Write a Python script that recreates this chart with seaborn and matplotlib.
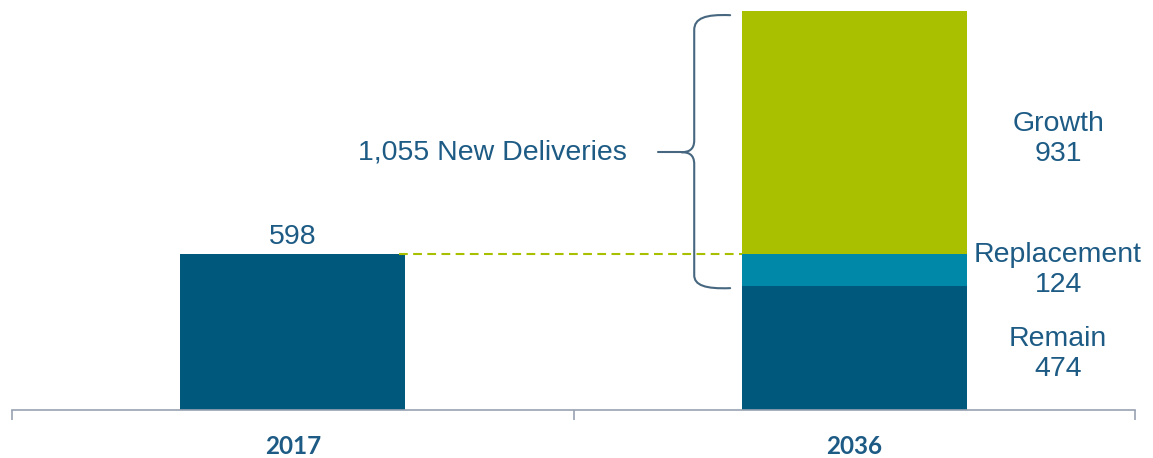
import matplotlib
matplotlib.use("Agg")
import matplotlib.pyplot as plt
import seaborn as sns
import pandas as pd
from matplotlib.path import Path
from matplotlib.patches import PathPatch

# ---- data ----
years = ["2017", "2036"]
remain = [598, 474]
replacement = [0, 124]
growth = [0, 931]
segment_names = ["Remain", "Replacement", "Growth"]
new_label = "New Deliveries"

DARK = "#00587c"
TEAL = "#0088a8"
GREEN = "#a8c000"
TEXT = "#1d5b85"
AXIS = "#98a2b3"
BRACE = "#46677f"

sns.set_theme(style="white")
plt.rcParams["font.family"] = ["Liberation Sans", "DejaVu Sans"]

W, H = 1153, 458
fig = plt.figure(figsize=(W / 100, H / 100), dpi=100)
ax = fig.add_axes([12 / W, 48 / H, 1123 / W, 399 / H])

total_2036 = remain[1] + replacement[1] + growth[1]

bar_kw = dict(order=years, saturation=1, width=0.4, errorbar=None, linewidth=0, ax=ax)
sns.barplot(data=pd.DataFrame({"year": years, "value": remain}), x="year", y="value",
            color=DARK, **bar_kw)
sns.barplot(data=pd.DataFrame({"year": [years[1]], "value": [replacement[1]]}), x="year", y="value",
            color=TEAL, bottom=remain[1], **bar_kw)
sns.barplot(data=pd.DataFrame({"year": [years[1]], "value": [growth[1]]}), x="year", y="value",
            color=GREEN, bottom=remain[1] + replacement[1], **bar_kw)

ax.set_xlim(-0.5, 1.5)
ax.set_ylim(0, total_2036)

# dashed reference line at 2017 level
ax.plot([0.19, 0.8], [remain[0], remain[0]], color=GREEN, lw=1.5, ls=(0, (4.2, 2.6)), zorder=1)

FS = 20.5
# value label for 2017
ax.annotate(f"{remain[0]}", xy=(0, remain[0]), xytext=(0, 7), textcoords="offset points",
            ha="center", va="baseline", fontsize=FS, color=TEXT)

# segment labels on right
lx = 1.363
LS = 1.22
ax.text(lx, remain[1] / 2 - 22, f"{segment_names[0]}\n{remain[1]}", ha="center", va="center",
        fontsize=FS, color=TEXT, linespacing=LS)
ax.text(lx, remain[1] + replacement[1] / 2, f"{segment_names[1]}\n{replacement[1]}", ha="center",
        va="center", fontsize=FS, color=TEXT, linespacing=LS)
ax.text(lx, remain[1] + replacement[1] + growth[1] / 2 - 25, f"{segment_names[2]}\n{growth[1]}",
        ha="center", va="center", fontsize=FS, color=TEXT, linespacing=LS)

# curly brace over new deliveries
y0 = remain[1] - 7
y1 = total_2036 - 16
ym = (y0 + y1) / 2 - 2
xt, xs, xp = 0.779, 0.715, 0.692
ky = 3.83  # data units per pixel (vertical)
kx = 1 / 561.5  # data units per pixel (horizontal)
verts = [
    (xt, y1),
    (xt - 25 * kx, y1 + 1 * ky), (xs, y1 - 3 * ky), (xs, y1 - 15 * ky),
    (xs, ym + 12 * ky),
    (xs, ym + 2 * ky), (xs - 6 * kx, ym), (xp, ym),
    (xs - 6 * kx, ym), (xs, ym - 2 * ky), (xs, ym - 12 * ky),
    (xs, y0 + 13 * ky),
    (xs, y0 + 3 * ky), (xt - 25 * kx, y0 - 1 * ky), (xt, y0),
]
codes = [Path.MOVETO,
         Path.CURVE4, Path.CURVE4, Path.CURVE4,
         Path.LINETO,
         Path.CURVE4, Path.CURVE4, Path.CURVE4,
         Path.CURVE4, Path.CURVE4, Path.CURVE4,
         Path.LINETO,
         Path.CURVE4, Path.CURVE4, Path.CURVE4]
ax.add_patch(PathPatch(Path(verts, codes), facecolor="none", edgecolor=BRACE, lw=1.5,
                       capstyle="round", zorder=3))
ax.plot([0.65, xp], [ym, ym], color=BRACE, lw=1.5, solid_capstyle="round")
ax.text(0.595, ym, f"{replacement[1] + growth[1]:,} {new_label}", ha="right", va="center",
        fontsize=FS, color=TEXT)

# axes styling
for s in ["top", "right", "left"]:
    ax.spines[s].set_visible(False)
ax.spines["bottom"].set_color(AXIS)
ax.spines["bottom"].set_linewidth(1.2)
ax.set_yticks([])
ax.set_ylabel("")
ax.set_xlabel("")
ax.set_xticks([-0.5, 0.5, 1.5])
ax.set_xticklabels([])
ax.tick_params(axis="x", which="major", length=7.5, width=1.2, color=AXIS, direction="out", bottom=True)
ax.set_xticks([0, 1], minor=True)
ax.set_xticklabels(years, minor=True, fontfamily="Lato", fontweight="bold", fontsize=17.5, color=TEXT)
ax.tick_params(axis="x", which="minor", length=0, pad=18, bottom=True)

fig.savefig("out.png", dpi=100)
